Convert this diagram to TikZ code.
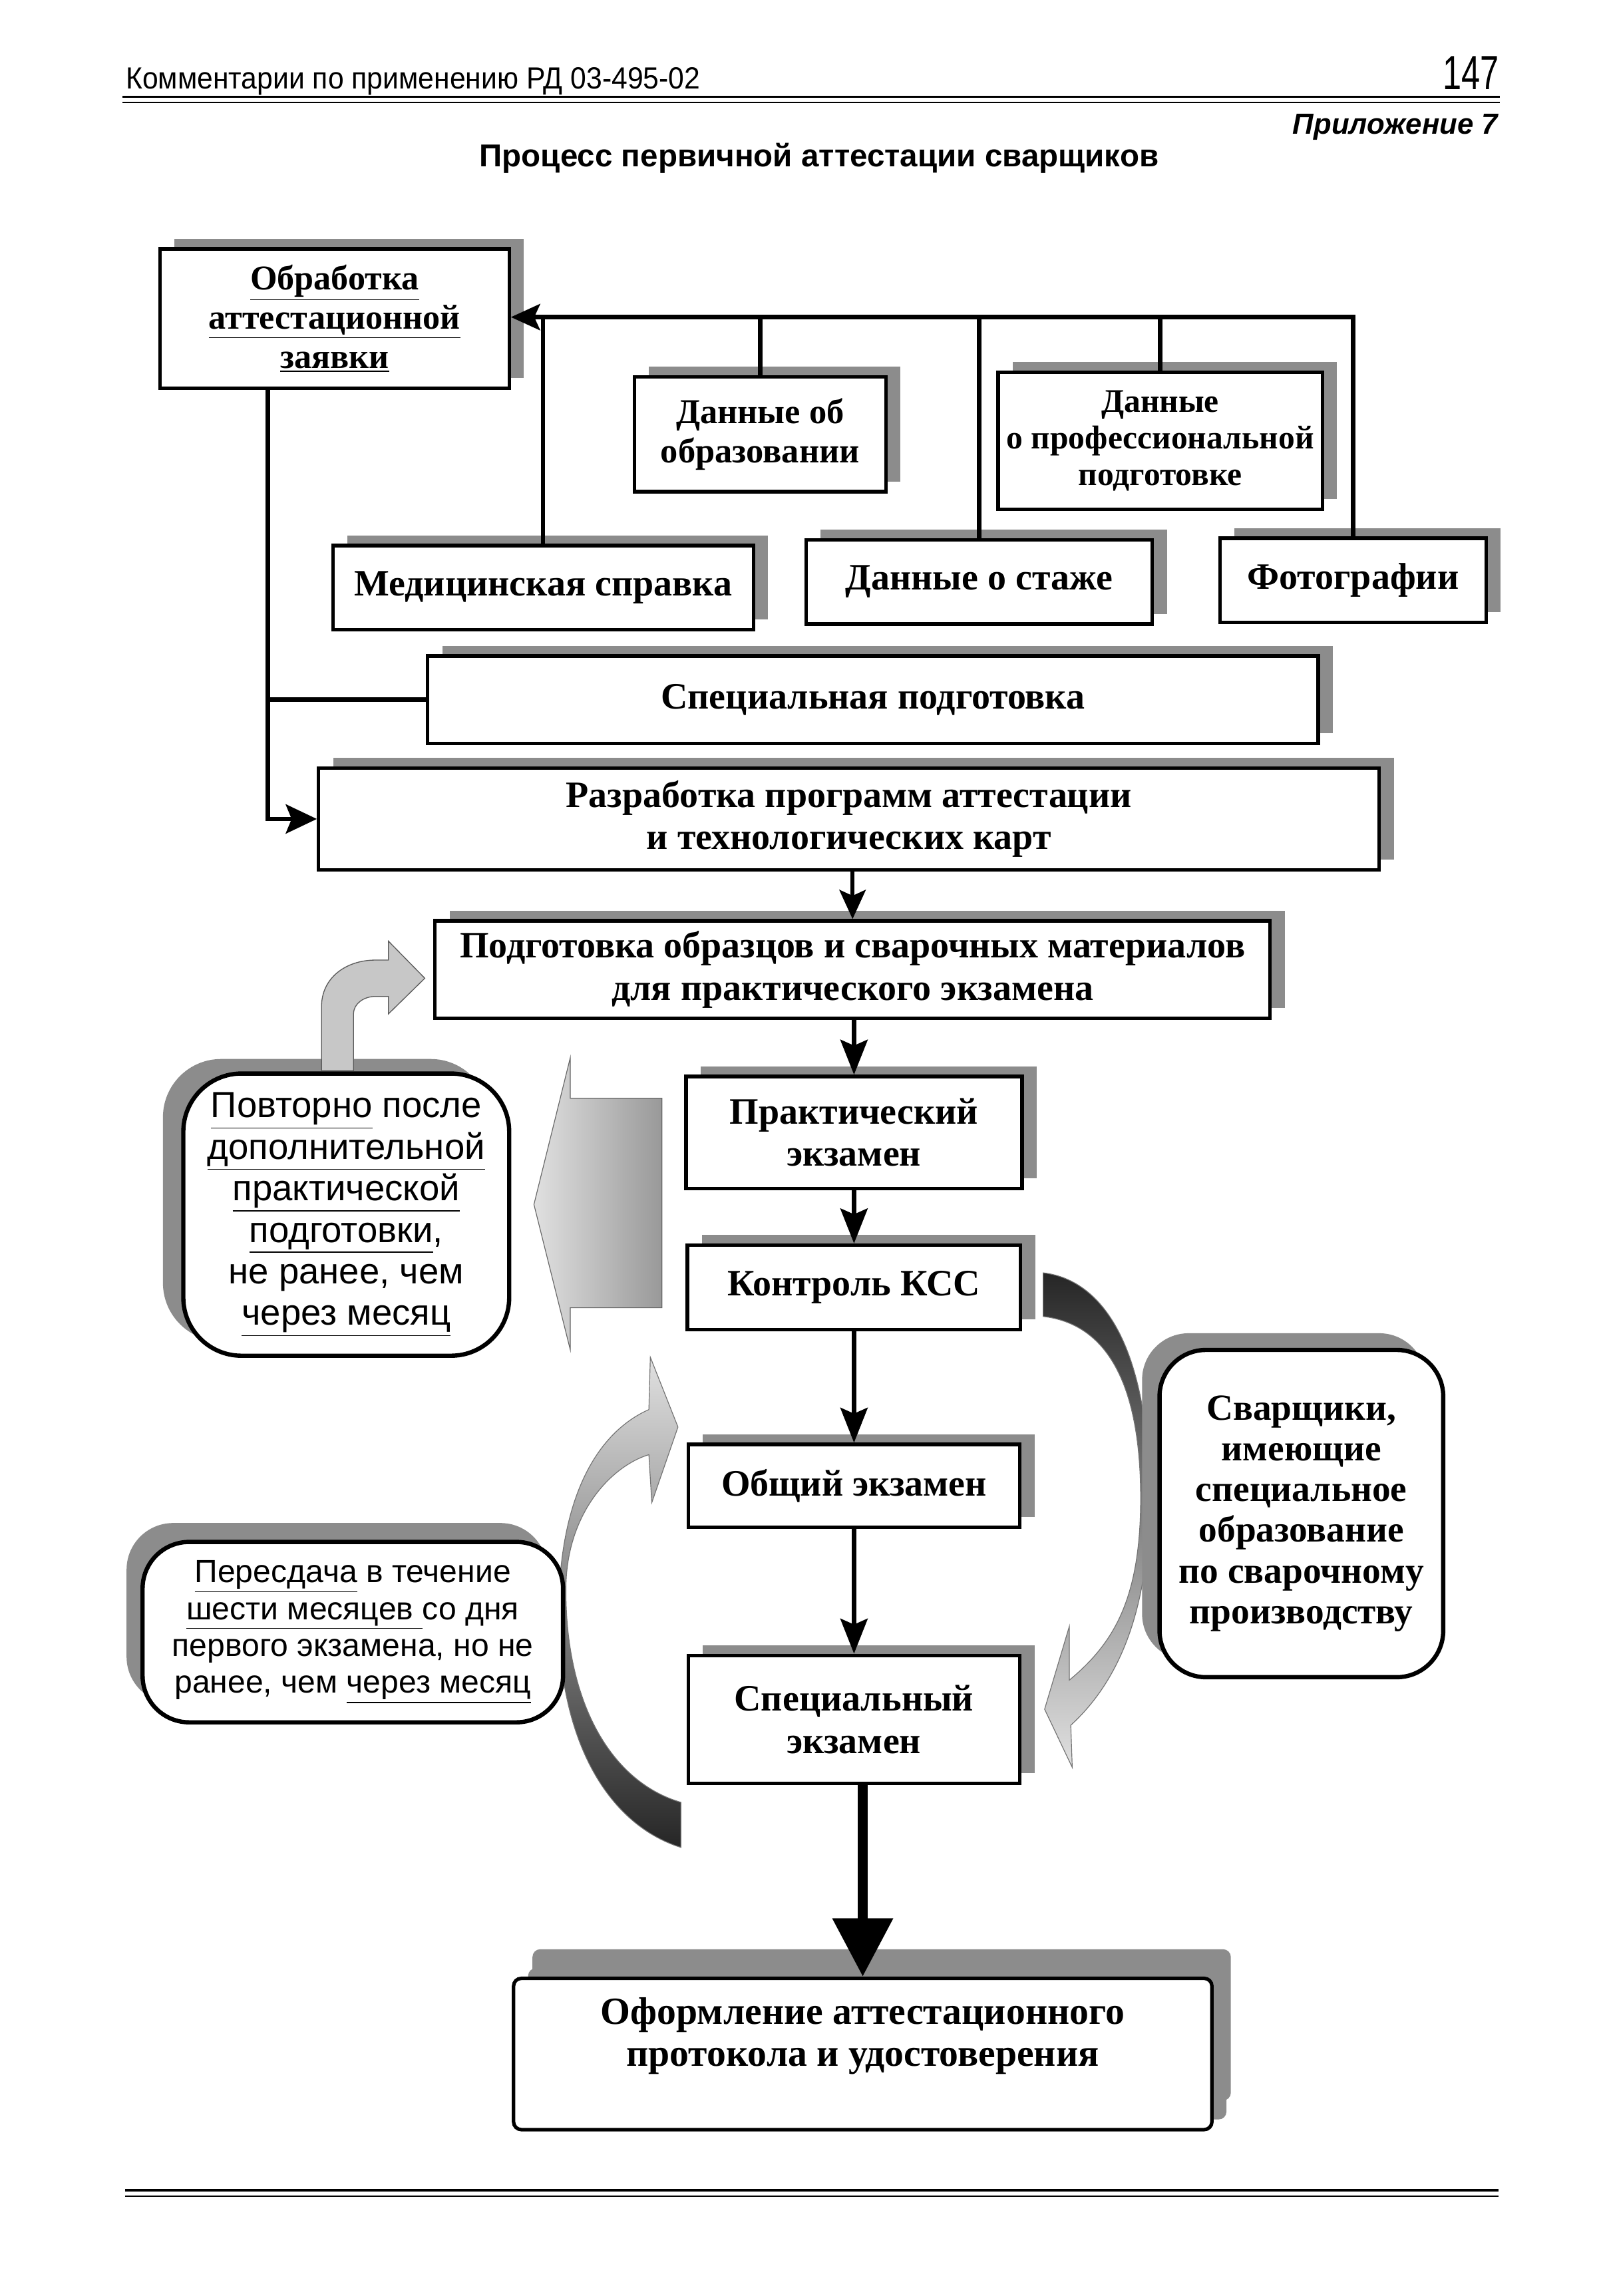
\documentclass[tikz,border=0pt]{standalone}
\usepackage{fontspec}
\setmainfont{Liberation Serif}
\setsansfont{Liberation Sans}
\newfontfamily\headfont[FakeStretch=0.93]{Liberation Sans}
\newfontfamily\pagefont[FakeStretch=0.7]{Liberation Sans}
\usetikzlibrary{arrows.meta,shadows}

\tikzset{every picture/.style={line width=0.75pt}}
\tikzset{
	sbox/.style={draw, line width=1.8pt, fill=white, inner sep=0pt, align=center,
		font=\bfseries\fontsize{19.2}{21.75}\selectfont,
		general shadow={fill=black!45, shadow xshift=7.5pt, shadow yshift=5.25pt}},
	rbox/.style={draw, line width=2.2pt, fill=white, inner sep=0pt, align=center},
	wire/.style={line width=2.2pt},
	tipA/.style={-{Stealth[length=15pt,width=13.5pt,inset=3pt]}},
	tipB/.style={-{Stealth[length=18pt,width=14pt,inset=3pt]}},
	bendfill/.style={draw=black!65, line width=0.45pt}
}

\begin{document}
\begin{tikzpicture}[x=0.75pt,y=0.75pt,yscale=-1,xscale=1]
				\path[use as bounding box, fill=white] (0,0) rectangle (1100,1578.4);
				
				% Text Node
				\node[anchor=base west, inner sep=0pt, font=\headfont\fontsize{15.75}{18}\selectfont] (hdr) at (86,61) {Комментарии по применению РД 03-495-02};
				% Text Node
				\node[anchor=base east, inner sep=0pt, font=\pagefont\fontsize{24.75}{28}\selectfont] (pgno) at (1031,61.5) {147};
				%Straight Lines
				\draw[line width=1.3pt] (84,66.5) -- (1031,66.5);
				\draw[line width=0.7pt] (84,70.5) -- (1031,70.5);
				% Text Node
				\node[anchor=base east, inner sep=0pt, font=\sffamily\bfseries\itshape\fontsize{15}{18}\selectfont] (appx) at (1030,92) {Приложение 7};
				% Text Node
				\node[anchor=base, inner sep=0pt, font=\sffamily\bfseries\fontsize{16.3}{19}\selectfont] (ttl) at (563,114.5) {Процесс первичной аттестации сварщиков};
				
				%Shape: Curved Arrow [right]
				\path[top color=black!85, middle color=black!45, bottom color=black!12, draw=black!55, line width=0.4pt]
					(717,875) .. controls (760,880) and (790,930) .. (790,1030)
					.. controls (790,1105) and (770,1155) .. (736,1186)
					-- (737,1215) -- (718,1175) -- (735,1118) -- (735,1155)
					.. controls (765,1130) and (784,1100) .. (784,1030)
					.. controls (784,950) and (760,910) .. (717,905) -- cycle;
				%Shape: Curved Arrow [left]
				\path[top color=black!12, middle color=black!45, bottom color=black!85, draw=black!55, line width=0.4pt]
					(468,1270) .. controls (420,1255) and (384,1200) .. (384,1110)
					.. controls (384,1030) and (410,985) .. (446,969)
					-- (447,933) -- (466,981) -- (448,1033) -- (446,1000)
					.. controls (420,1008) and (390,1040) .. (389,1090)
					.. controls (388,1170) and (420,1225) .. (468,1239) -- cycle;
				%Shape: Left Arrow
				\path[left color=black!12, right color=black!40, draw=black!60, line width=0.4pt] (455,755) -- (392,755) -- (392,727) -- (367,828) -- (392,928) -- (392,899) -- (455,899) -- cycle;
				
				%Shape: Rectangle
				\node[sbox, minimum width=180pt, minimum height=72pt, font=\bfseries\fontsize{17.9}{20.25}\selectfont] (proc) at (230,219) {\underline{Обработка}\\\underline{аттестационной}\\\underline{заявки}};
				%Shape: Rectangle
				\node[sbox, minimum width=129.75pt, minimum height=59.25pt, font=\bfseries\fontsize{18}{20.25}\selectfont] (edu) at (522.5,298.5) {Данные об\\образовании};
				%Shape: Rectangle
				\node[sbox, minimum width=167.25pt, minimum height=70.5pt, font=\bfseries\fontsize{17}{18.75}\selectfont] (prof) at (797.5,303) {Данные\\о профессиональной\\подготовке};
				%Shape: Rectangle
				\node[sbox, minimum width=216.75pt, minimum height=43.5pt] (med) at (373.3,404) {Медицинская справка};
				%Shape: Rectangle
				\node[sbox, minimum width=178.5pt, minimum height=43.5pt] (staj) at (673,400) {Данные о стаже};
				%Shape: Rectangle
				\node[sbox, minimum width=137.25pt, minimum height=43.5pt] (foto) at (930,399) {Фотографии};
				%Shape: Rectangle
				\node[sbox, minimum width=459pt, minimum height=45pt] (spec) at (600,481) {Специальная подготовка};
				%Shape: Rectangle
				\node[sbox, minimum width=546.75pt, minimum height=52.5pt] (razr) at (583.5,563) {Разработка программ аттестации\\и технологических карт};
				%Shape: Rectangle
				\node[sbox, minimum width=430.5pt, minimum height=50.25pt] (podg) at (586,666.5) {Подготовка образцов и сварочных материалов\\для практического экзамена};
				%Shape: Rectangle
				\node[sbox, minimum width=173.25pt, minimum height=57.75pt] (prakt) at (587,778.5) {Практический\\экзамен};
				%Shape: Rectangle
				\node[sbox, minimum width=171.75pt, minimum height=43.5pt] (kontr) at (587,885) {Контроль КСС};
				%Shape: Rectangle
				\node[sbox, minimum width=171pt, minimum height=42.75pt] (obsh) at (587,1021.5) {Общий экзамен};
				%Shape: Rectangle
				\node[sbox, minimum width=171pt, minimum height=66pt] (specex) at (587,1182) {Специальный\\экзамен};
				%Shape: Rectangle
				\node[sbox, minimum width=360pt, minimum height=78pt, rounded corners=4pt, text depth=23pt,
					font=\bfseries\fontsize{19.8}{21.75}\selectfont,
					general shadow={fill=black!45, shadow xshift=9.75pt, shadow yshift=15pt}] (oform) at (593,1412) {Оформление аттестационного\\протокола и удостоверения};
				
				%Shape: Rounded Rectangle
				\node[rbox, minimum width=168pt, minimum height=145.5pt, rounded corners=30pt, font=\sffamily\fontsize{18.7}{21.4}\selectfont,
					general shadow={fill=black!45, shadow xshift=-10.5pt, shadow yshift=7.5pt}] (povt) at (238,835) {\underline{Повторно} после\\\underline{дополнительной}\\\underline{практической}\\\underline{подготовки},\\не ранее, чем\\\underline{через месяц}};
				%Shape: Rounded Rectangle
				\node[rbox, minimum width=216.75pt, minimum height=93pt, rounded corners=24pt, font=\sffamily\fontsize{16.5}{19}\selectfont,
					general shadow={fill=black!45, shadow xshift=-8.25pt, shadow yshift=9.75pt}] (peresd) at (242.5,1122) {\underline{Пересдача} в течение\\\underline{шести месяцев }со дня\\первого экзамена, но не\\ранее, чем \underline{через месяц}};
				%Shape: Rounded Rectangle
				\node[rbox, minimum width=146.25pt, minimum height=168.75pt, rounded corners=24pt, font=\bfseries\fontsize{19}{21}\selectfont,
					general shadow={fill=black!45, shadow xshift=-9pt, shadow yshift=8.6pt}] (svarsh) at (894.5,1040.5) {Сварщики,\\имеющие\\специальное\\образование\\по сварочному\\производству};
				
				%Shape: Bent Arrow
				\draw[bendfill, fill=black!22] (221,736) -- (221,692) .. controls (221,672) and (238,660) .. (258,660) -- (267,660) -- (267,647) -- (292,672.5) -- (267,697) -- (267,685) -- (258,685) .. controls (250,685) and (243,690) .. (243,697) -- (243,736) -- cycle;
				
				%Straight Lines [top bus]
				\coordinate (busR) at (0,218);
				\coordinate (busL) at (184,0);
				\draw[wire, tipA] (foto.north) |- (proc.east |- busR);
				\foreach \n in {med,edu,staj,prof}
					\draw[wire] (\n.north) -- (\n.north |- busR);
				%Straight Lines [left bus]
				\draw[wire, -{Stealth[length=16pt,width=15pt,inset=3pt]}] (proc.south -| busL) |- (razr.west);
				\draw[wire] (spec.west) -- (spec.west -| busL);
				%Straight Lines [column]
				\draw[wire, tipA] (podg.north |- razr.south) -- (podg.north);
				\draw[wire, tipB] (prakt.north |- podg.south) -- (prakt.north);
				\draw[wire, tipB] (prakt.south) -- (kontr.north);
				\draw[wire, tipB] (kontr.south) -- (obsh.north);
				\draw[wire, tipB] (obsh.south) -- (specex.north);
				\draw[line width=5.25pt, -{Triangle[length=30pt,width=30pt]}] (specex.south -| oform.north) -- (oform.north);
				
				%Straight Lines
				\draw[line width=1.4pt] (86,1505.5) -- (1030,1505.5);
				\draw[line width=0.9pt] (86,1509.8) -- (1030,1509.8);
			\end{tikzpicture}
\end{document}
